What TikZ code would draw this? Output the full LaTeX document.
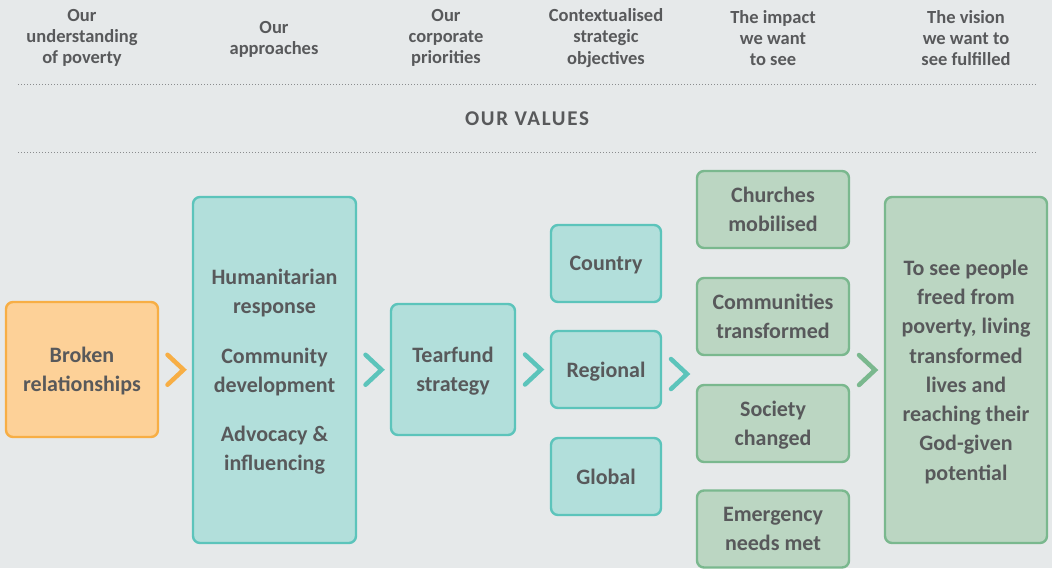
\documentclass[tikz,border=0pt]{standalone}
\usepackage{fontspec}
\usetikzlibrary{calc}
\setmainfont{Carlito}
\definecolor{bg}{HTML}{E6E9EA}
\definecolor{txt}{HTML}{58595B}
\definecolor{ofill}{HTML}{FDD198}
\definecolor{oline}{HTML}{F7AE45}
\definecolor{tfill}{HTML}{B2DFDB}
\definecolor{tline}{HTML}{5CC4BB}
\definecolor{gfill}{HTML}{BBD6C2}
\definecolor{gline}{HTML}{7AB88E}
\definecolor{dotc}{HTML}{8A8C8E}
\tikzset{
  basebox/.style={rounded corners=7pt, line width=2.4pt, align=center, text=txt,
    font=\fontsize{22}{29.3}\selectfont\bfseries, inner sep=0pt, text depth=0pt},
  obox/.style={basebox, draw=oline, fill=ofill},
  tbox/.style={basebox, draw=tline, fill=tfill},
  gbox/.style={basebox, draw=gline, fill=gfill},
  head/.style={align=center, text=txt, font=\fontsize{18.5}{21.2}\selectfont\bfseries, inner sep=0pt},
  dotline/.style={draw=dotc, line width=0.9pt, dash pattern=on 0.9pt off 2.1pt},
  chev/.style={line width=4.5pt, line cap=round, line join=miter},
}
\newcommand{\chevat}[2]{\draw[chev,#2] ([shift={(-8,-15)}]#1) -- ([shift={(8,0)}]#1) -- ([shift={(-8,15)}]#1);}
\begin{document}
\begin{tikzpicture}[x=1pt,y=-1pt]
\fill[bg] (0,0) rectangle (1052,568);
\useasboundingbox (0,0) rectangle (1052,568);
% headers
\node[head] (h1) at (82,38) {Our\\understanding\\of poverty};
\node[head] (h2) at (274,39.5) {Our\\approaches};
\node[head] (h3) at (446,38) {Our\\corporate\\priorities};
\node[head] (h4) at (606,38) {Contextualised\\strategic\\objectives};
\node[head] (h5) at (773,38) {The impact\\we want\\to see};
\node[head] (h6) at (966,38) {The vision\\we want to\\see fulfilled};
\coordinate (d1a) at (18,84); \coordinate (d1b) at (1036,84);
\coordinate (d2a) at (18,152); \coordinate (d2b) at (1036,152);
\draw[dotline] (d1a) -- (d1b);
\draw[dotline] (d2a) -- (d2b);
\node[text=txt, font=\fontsize{21}{24}\selectfont\bfseries\addfontfeature{LetterSpace=8}, inner sep=0pt] (values) at (527,118.5) {OUR VALUES};
% boxes
\node[obox, minimum width=152pt, minimum height=135pt] (broken) at (82,369.5) {Broken\\relationships};
\node[tbox, minimum width=163pt, minimum height=346pt] (appr) at (274.5,370) {Humanitarian\\response\\[20pt]Community\\development\\[20pt]Advocacy \&\\influencing};
\node[tbox, minimum width=124pt, minimum height=131pt] (strat) at (453,369.5) {Tearfund\\strategy};
\node[tbox, minimum width=110pt, minimum height=77pt] (country) at (606,263.5) {Country};
\node[tbox, minimum width=110pt, minimum height=77pt] (regional) at (606,369.5) {Regional};
\node[tbox, minimum width=110pt, minimum height=77pt] (global) at (606,476.5) {Global};
\node[gbox, minimum width=152pt, minimum height=77pt] (church) at (773,209.5) {Churches\\mobilised};
\node[gbox, minimum width=152pt, minimum height=77pt] (comm) at (773,316.5) {Communities\\transformed};
\node[gbox, minimum width=152pt, minimum height=77pt] (soc) at (773,423.5) {Society\\changed};
\node[gbox, minimum width=152pt, minimum height=77pt] (emer) at (773,529) {Emergency\\needs met};
\node[gbox, minimum width=162pt, minimum height=346pt] (vision) at (966,370) {To see people\\freed from\\poverty, living\\transformed\\lives and\\reaching their\\God-given\\potential};
% chevrons
\coordinate (c1) at ($(broken.east)!0.5!(appr.west)$);
\coordinate (c2) at ($(appr.east)!0.5!(strat.west)$);
\coordinate (c3) at ($(strat.east)!0.5!(regional.west)$);
\coordinate (c4) at (679,374);
\coordinate (c5) at ($(church.east|-vision.west)!0.5!(vision.west)$);
\chevat{c1}{oline}
\chevat{c2}{tline}
\chevat{c3}{tline}
\chevat{c4}{tline}
\chevat{c5}{gline}
\end{tikzpicture}
\end{document}
